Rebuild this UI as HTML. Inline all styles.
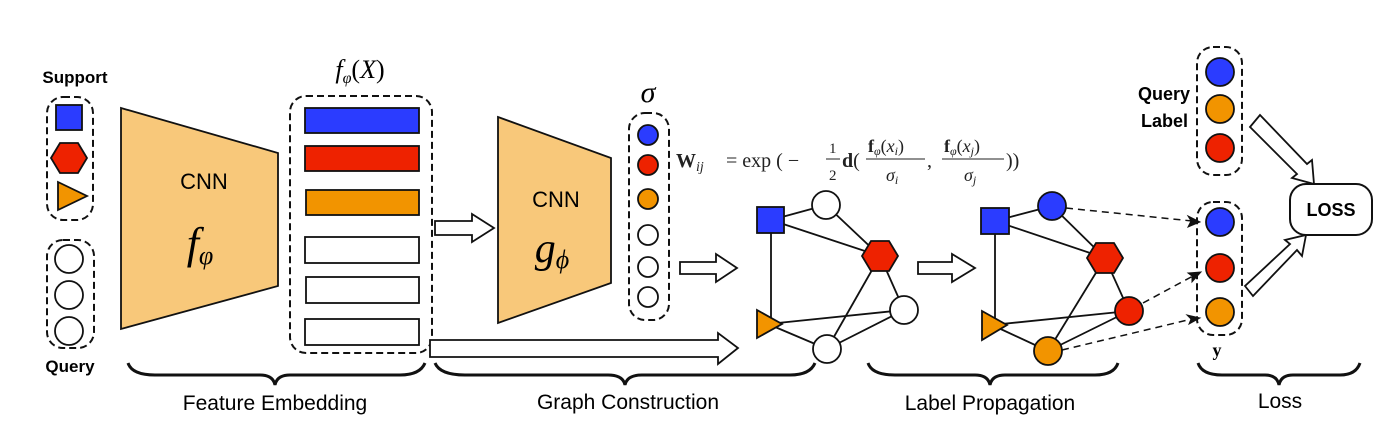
<!DOCTYPE html>
<html><head><meta charset="utf-8"><style>
html,body{margin:0;padding:0;background:#fff;}
svg{display:block;}
.s{font-family:"Liberation Sans",sans-serif;}
.r{font-family:"Liberation Serif",serif;}
.m{font-family:"Liberation Serif",serif;font-style:italic;}
</style></head><body>
<svg width="1390" height="442" viewBox="0 0 1390 442" xmlns="http://www.w3.org/2000/svg">
<g stroke="#111" stroke-width="1.8">
<rect x="47" y="97" width="46" height="123" rx="16" fill="none" stroke-dasharray="7,4" stroke-width="2"/>
<rect x="56" y="105" width="26" height="25" fill="#2b3cff"/>
<polygon points="51,158 60,143 78,143 87,158 78,173 60,173" fill="#ee2200"/>
<polygon points="58,182 87,196 58,210" fill="#f29400"/>
<rect x="47" y="240" width="47" height="108" rx="16" fill="none" stroke-dasharray="7,4" stroke-width="2"/>
<circle cx="69" cy="259" r="14" fill="#fff"/><circle cx="69" cy="295" r="14" fill="#fff"/><circle cx="69" cy="331" r="14" fill="#fff"/>
<polygon points="121,108 278,153 278,286 121,329" fill="#f8c87a"/>
<rect x="290" y="96" width="142" height="257" rx="16" fill="none" stroke-dasharray="7,4" stroke-width="2"/>
<rect x="305" y="108" width="114" height="25" fill="#2b3cff"/>
<rect x="305" y="146" width="114" height="25" fill="#ee2200"/>
<rect x="306" y="190" width="113" height="25" fill="#f29400"/>
<rect x="305" y="237" width="114" height="26" fill="#fff"/>
<rect x="306" y="277" width="113" height="26" fill="#fff"/>
<rect x="305" y="319" width="114" height="26" fill="#fff"/>
<polygon points="435,221 472,221 472,214 494,228 472,242 472,235 435,235" fill="#fff"/>
<polygon points="430,340 718,340 718,333 738,348 718,364 718,357 430,357" fill="#fff"/>
<polygon points="680,262 716,262 716,254 737,268 716,282 716,274 680,274" fill="#fff"/>
<polygon points="918,262 952,262 952,254 975,268 952,282 952,274 918,274" fill="#fff"/>
<polygon points="1250,127 1260,115 1307,164 1312,160 1314,184 1292,178 1297,174" fill="#fff"/>
<polygon points="1245,286 1253,296 1297,250 1302,256 1306,235 1285,240 1290,244" fill="#fff"/>
<polygon points="498,117 611,158 611,283 498,323" fill="#f8c87a"/>
<rect x="629" y="113" width="40" height="207" rx="16" fill="none" stroke-dasharray="7,4" stroke-width="2"/>
<circle cx="648" cy="135" r="10" fill="#2b3cff"/><circle cx="648" cy="165" r="10" fill="#ee2200"/><circle cx="648" cy="199" r="10" fill="#f29400"/>
<circle cx="648" cy="235" r="10" fill="#fff"/><circle cx="648" cy="267" r="10" fill="#fff"/><circle cx="648" cy="297" r="10" fill="#fff"/>
<g>
<line x1="771" y1="220" x2="826" y2="205"/><line x1="771" y1="220" x2="880" y2="256"/><line x1="826" y1="205" x2="880" y2="256"/>
<line x1="771" y1="220" x2="771" y2="320"/><line x1="768" y1="324" x2="904" y2="310"/><line x1="768" y1="324" x2="827" y2="349"/>
<line x1="880" y1="256" x2="827" y2="349"/><line x1="880" y1="256" x2="904" y2="310"/><line x1="904" y1="310" x2="827" y2="349"/>
<rect x="757" y="207" width="27" height="26" fill="#2b3cff"/>
<circle cx="826" cy="205" r="14" fill="#fff"/>
<polygon points="862,256 871,241 889,241 898,256 889,271 871,271" fill="#ee2200"/>
<circle cx="904" cy="310" r="14" fill="#fff"/>
<polygon points="757,310 782,324 757,338" fill="#f29400"/>
<circle cx="827" cy="349" r="14" fill="#fff"/>
</g>
<g transform="translate(224,1)">
<line x1="771" y1="220" x2="828" y2="205"/><line x1="771" y1="220" x2="881" y2="257"/><line x1="828" y1="205" x2="881" y2="257"/>
<line x1="771" y1="220" x2="771" y2="320"/><line x1="768" y1="324" x2="905" y2="310"/><line x1="768" y1="324" x2="824" y2="350"/>
<line x1="881" y1="257" x2="824" y2="350"/><line x1="881" y1="257" x2="905" y2="310"/><line x1="905" y1="310" x2="824" y2="350"/>
<rect x="757" y="207" width="28" height="26" fill="#2b3cff"/>
<circle cx="828" cy="205" r="14" fill="#2b3cff"/>
<polygon points="863,257 872,242 890,242 899,257 890,272 872,272" fill="#ee2200"/>
<circle cx="905" cy="310" r="14" fill="#ee2200"/>
<polygon points="758,310 783,324 758,339" fill="#f29400"/>
<circle cx="824" cy="350" r="14" fill="#f29400"/>
</g>
<g stroke-dasharray="7,5" stroke-width="1.5">
<line x1="1066" y1="208" x2="1192" y2="221"/><line x1="1143" y1="303" x2="1193" y2="276"/><line x1="1062" y1="350" x2="1192" y2="319"/>
</g>
<polygon points="1200,222 1188,216 1191,221 1188,227" fill="#111" stroke-width="1"/>
<polygon points="1201,272 1188,273 1192,276 1192,282" fill="#111" stroke-width="1"/>
<polygon points="1200,318 1187,315 1191,319 1189,324" fill="#111" stroke-width="1"/>
<rect x="1197" y="47" width="45" height="128" rx="16" fill="none" stroke-dasharray="7,4" stroke-width="2"/>
<circle cx="1220" cy="72" r="14" fill="#2b3cff"/><circle cx="1220" cy="109" r="14" fill="#f29400"/><circle cx="1220" cy="148" r="14" fill="#ee2200"/>
<rect x="1197" y="202" width="45" height="133" rx="16" fill="none" stroke-dasharray="7,4" stroke-width="2"/>
<circle cx="1220" cy="222" r="14" fill="#2b3cff"/><circle cx="1220" cy="268" r="14" fill="#ee2200"/><circle cx="1220" cy="312" r="14" fill="#f29400"/>
<rect x="1290" y="184" width="82" height="51" rx="16" fill="#fff" stroke-width="2"/>
<g fill="none" stroke-width="3">
<path d="M128,363 Q132,375 155,375 L260,375 Q273,375 275,385 Q277,375 290,375 L400,375 Q420,375 425,363"/>
<path d="M435,363 Q440,375 465,375 L608,375 Q623,375 625,385 Q627,375 642,375 L790,375 Q810,375 815,363"/>
<path d="M868,363 Q872,375 895,375 L975,375 Q988,375 990,385 Q992,375 1005,375 L1095,375 Q1114,375 1118,363"/>
<path d="M1198,363 Q1202,375 1222,375 L1265,375 Q1277,375 1279,385 Q1281,375 1293,375 L1340,375 Q1356,375 1360,363"/>
</g>
</g>
<text class="s" x="75" y="83" font-size="17" font-weight="bold" text-anchor="middle">Support</text>
<text class="s" x="70" y="372" font-size="17" font-weight="bold" text-anchor="middle">Query</text>
<text class="s" x="204" y="189" font-size="22" text-anchor="middle">CNN</text>
<text x="200" y="258" font-size="44" class="m" text-anchor="middle">f<tspan font-size="26" dy="6">φ</tspan></text>
<text x="360" y="78" font-size="26" class="m" text-anchor="middle">f<tspan font-size="16" dy="5">φ</tspan><tspan dy="-5" font-style="normal">(</tspan>X<tspan font-style="normal">)</tspan></text>
<text class="s" x="556" y="207" font-size="22" text-anchor="middle">CNN</text>
<text x="552" y="262" font-size="42" class="m" text-anchor="middle">g<tspan font-size="26" dy="6">ϕ</tspan></text>
<text x="648" y="102" font-size="30" class="m" text-anchor="middle">σ</text>
<g fill="#222">
<text class="r" x="676" y="167" font-size="20"><tspan font-weight="bold">W</tspan><tspan class="m" font-size="14" dy="4">ij</tspan></text>
<text class="r" x="726" y="167" font-size="20">= exp ( −</text>
<text class="r" x="829" y="153" font-size="15">1</text><line x1="826" y1="159" x2="840" y2="159" stroke="#222"/><text class="r" x="829" y="180" font-size="15">2</text>
<text class="r" x="842" y="167" font-size="20"><tspan font-weight="bold">d</tspan>(</text>
<text class="r" x="868" y="152" font-size="18"><tspan font-weight="bold">f</tspan><tspan class="m" font-size="12" dy="3">φ</tspan><tspan dy="-3">(</tspan><tspan class="m">x</tspan><tspan class="m" font-size="12" dy="3">i</tspan><tspan dy="-3">)</tspan></text>
<line x1="866" y1="159" x2="925" y2="159" stroke="#222"/>
<text x="886" y="181" font-size="18" class="m">σ<tspan font-size="12" dy="3">i</tspan></text>
<text class="r" x="927" y="167" font-size="20">,</text>
<text class="r" x="944" y="152" font-size="18"><tspan font-weight="bold">f</tspan><tspan class="m" font-size="12" dy="3">φ</tspan><tspan dy="-3">(</tspan><tspan class="m">x</tspan><tspan class="m" font-size="12" dy="3">j</tspan><tspan dy="-3">)</tspan></text>
<line x1="942" y1="159" x2="1004" y2="159" stroke="#222"/>
<text x="964" y="181" font-size="18" class="m">σ<tspan font-size="12" dy="3">j</tspan></text>
<text class="r" x="1006" y="167" font-size="20">))</text>
</g>
<text class="s" x="1190" y="100" font-size="18" font-weight="bold" text-anchor="end">Query</text>
<text class="s" x="1188" y="127" font-size="18" font-weight="bold" text-anchor="end">Label</text>
<text class="r" x="1217" y="356" font-size="18" font-weight="bold" text-anchor="middle">y</text>
<text class="s" x="1331" y="216" font-size="18" font-weight="bold" text-anchor="middle">LOSS</text>
<text class="s" x="275" y="410" font-size="21" text-anchor="middle">Feature Embedding</text>
<text class="s" x="628" y="409" font-size="21" text-anchor="middle">Graph Construction</text>
<text class="s" x="990" y="410" font-size="21" text-anchor="middle">Label Propagation</text>
<text class="s" x="1280" y="408" font-size="21" text-anchor="middle">Loss</text>
</svg>
</body></html>
